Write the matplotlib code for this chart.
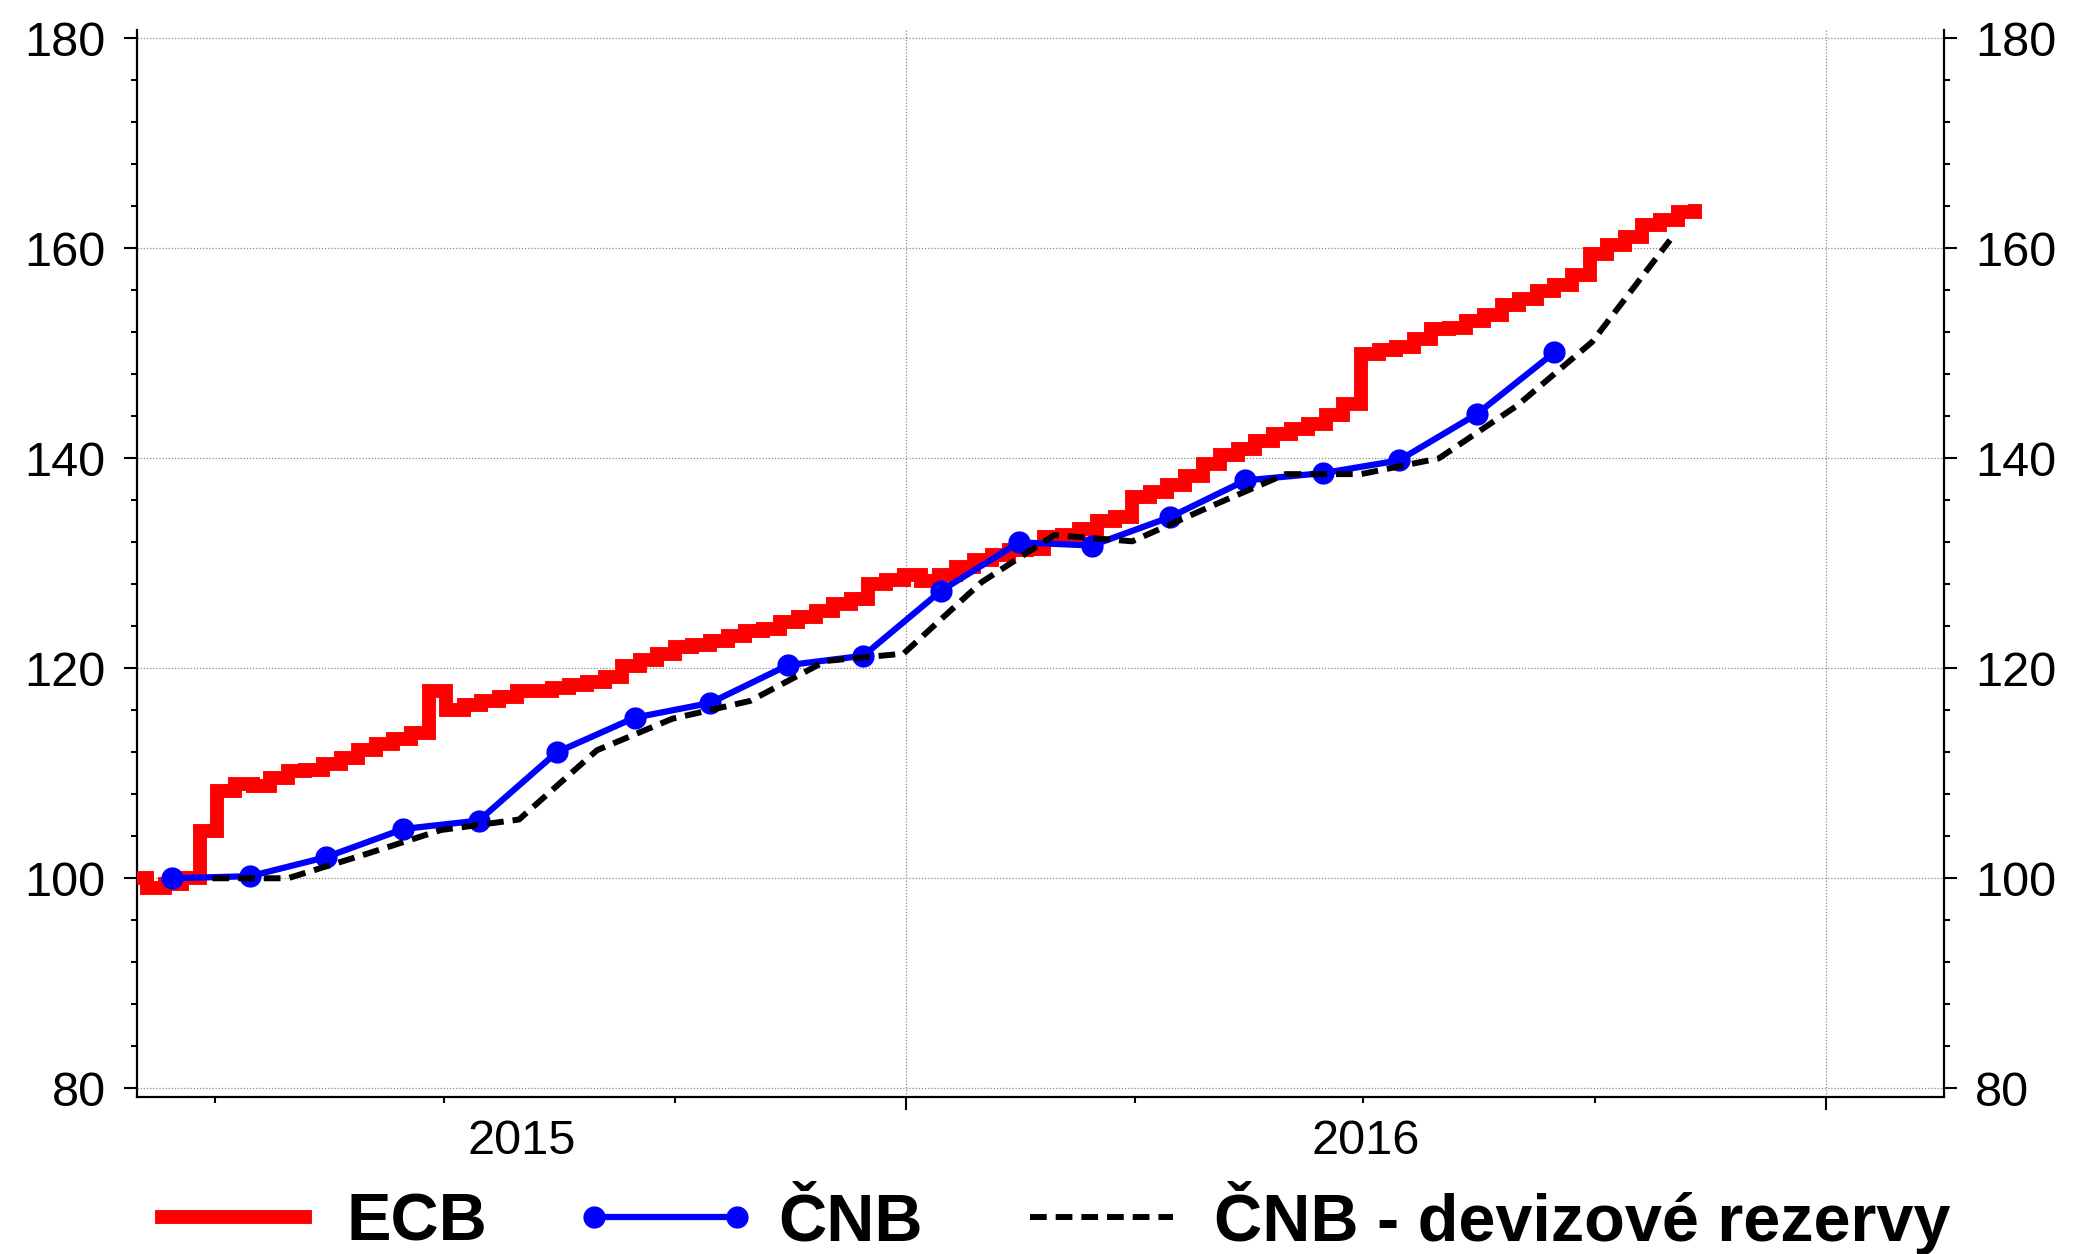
import matplotlib
matplotlib.use("Agg")
import matplotlib.pyplot as plt
import matplotlib.dates as mdates
import matplotlib.transforms as mtransforms
from matplotlib.ticker import MultipleLocator, NullFormatter
from matplotlib.lines import Line2D
import pandas as pd

plt.rcParams['font.family'] = ['Liberation Sans', 'DejaVu Sans']

# ECB balance sheet, weekly (index, start = 100)
ecb_start = "2015-02-26"
ecb_values = [
    100.0, 99.1, 99.5, 100.0, 104.5, 108.3, 109.0, 108.8, 109.6, 110.2,
    110.3, 110.9, 111.5, 112.2, 112.8, 113.3, 113.8, 117.8, 116.0, 116.5,
    116.9, 117.3, 117.8, 117.8, 118.1, 118.4, 118.7, 119.2, 120.2, 120.8,
    121.4, 122.0, 122.2, 122.6, 123.1, 123.6, 123.7, 124.4, 124.9, 125.5,
    126.1, 126.6, 128.0, 128.4, 128.9, 128.3, 128.9, 129.7, 130.3, 130.8,
    131.3, 131.4, 132.5, 132.7, 133.3, 134.0, 134.4, 136.3, 136.8, 137.5,
    138.3, 139.5, 140.3, 140.9, 141.7, 142.3, 142.8, 143.3, 144.1, 145.2,
    149.9, 150.3, 150.6, 151.4, 152.3, 152.4, 153.1, 153.7, 154.6, 155.2,
    155.9, 156.5, 157.5, 159.5, 160.3, 161.1, 162.2, 162.7, 163.5, 163.6,
]

# CNB balance sheet, monthly (mid-month)
cnb_start = "2015-03-01"
cnb_values = [
    100.0, 100.2, 102.0, 104.7, 105.5, 112.0, 115.3, 116.7, 120.3, 121.2,
    127.4, 132.0, 131.7, 134.4, 137.9, 138.6, 139.8, 144.2, 150.1,
]

# CNB FX reserves, monthly (end of month)
res_start = "2015-04-01"
res_values = [
    100.0, 100.0, 102.3, 104.6, 105.6, 112.2, 115.2, 116.9, 120.7, 121.4,
    128.2, 132.7, 132.1, 135.3, 138.5, 138.5, 140.0, 145.0, 151.1, 160.8,
]

labels = ["ECB", "ČNB", "ČNB - devizové rezervy"]
year_labels = ["2015", "2016"]

ecb_dates = pd.date_range(ecb_start, periods=len(ecb_values), freq="7D")
cnb_dates = pd.date_range(cnb_start, periods=len(cnb_values), freq="MS") + pd.Timedelta(days=14)
res_dates = pd.date_range(res_start, periods=len(res_values), freq="MS") - pd.Timedelta(days=1)

RED_LW, BLUE_LW, BLUE_MS, BLACK_LW = 10, 4.5, 15, 4.3
DASH = (2.8, 1.5)

fig = plt.figure(figsize=(20.8, 12.54), dpi=100)
ax = fig.add_axes([0.0659, 0.1255, 0.9346 - 0.0659, 0.976 - 0.1255])

ax.plot(ecb_dates, ecb_values, color="#ff0000", lw=RED_LW, drawstyle="steps-post",
        solid_joinstyle="miter", zorder=3)
ax.plot(cnb_dates, cnb_values, color="#0000ff", lw=BLUE_LW, marker="o",
        markersize=BLUE_MS, zorder=4)
ax.plot(res_dates, res_values, color="black", lw=BLACK_LW, dashes=DASH, zorder=5)

xmin = pd.Timestamp("2015-03-01")
xmax = pd.Timestamp("2017-02-17")
ax.set_xlim(xmin, xmax)
ax.set_ylim(79.2, 180.8)

# axes frame
ax.spines["top"].set_visible(False)
for s in ["left", "right", "bottom"]:
    ax.spines[s].set_linewidth(1.6)

ax.xaxis.set_major_locator(mdates.YearLocator())
ax.xaxis.set_minor_locator(mdates.MonthLocator(bymonth=[4, 7, 10]))
ax.xaxis.set_major_formatter(NullFormatter())
ax.tick_params(axis="x", which="major", direction="out", length=9, width=1.5)
ax.tick_params(axis="x", which="minor", direction="out", length=4.5, width=1.5)

ax.set_yticks(range(80, 181, 20))
ax.yaxis.set_minor_locator(MultipleLocator(4))
ax.tick_params(axis="y", which="both", left=True, right=True,
               labelleft=True, labelright=True, direction="out")
ax.tick_params(axis="y", which="major", length=9.5, width=1.5, pad=13, labelsize=35)
ax.tick_params(axis="y", which="minor", length=4.5, width=1.5)

ax.grid(axis="x", which="major", color="#8a8a8a", lw=0.9, linestyle=(0, (1, 1.5)))
ax.grid(axis="y", which="major", color="#8a8a8a", lw=0.9, linestyle=(0, (1, 1.5)))
ax.set_axisbelow(True)

# year labels centred in the visible part of each year
trans = mtransforms.blended_transform_factory(ax.transData, ax.transAxes)
for lab in year_labels:
    y = int(lab)
    start = max(pd.Timestamp(f"{y}-01-01"), xmin)
    end = min(pd.Timestamp(f"{y + 1}-01-01"), xmax)
    mid = start + (end - start) / 2
    ax.text(mdates.date2num(mid), -0.042, lab, transform=trans,
            ha="center", va="center", fontsize=35)

handles = [
    Line2D([], [], color="#ff0000", lw=RED_LW),
    Line2D([], [], color="#0000ff", lw=BLUE_LW, marker="o", markersize=BLUE_MS),
    Line2D([], [], color="black", lw=BLACK_LW, dashes=DASH),
]
fig.legend(handles, labels, loc="center", bbox_to_anchor=(0.503, 0.029), ncol=3,
           frameon=False, prop={"weight": "bold", "size": 48}, handlelength=2.75,
           handletextpad=0.32, columnspacing=1.3, numpoints=2,
           borderaxespad=0, borderpad=0)

fig.savefig("out.png", dpi=100)
